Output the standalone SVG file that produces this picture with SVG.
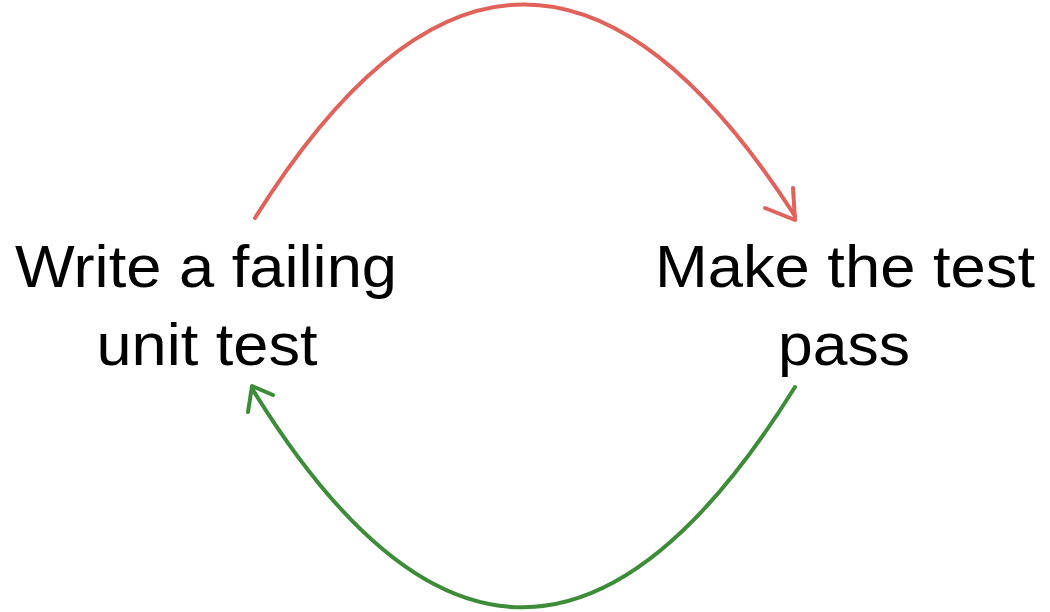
<svg xmlns="http://www.w3.org/2000/svg" width="1050" height="612" viewBox="0 0 1050 612">
<style>
.lbl{font-family:"Liberation Sans",Arial,sans-serif;font-size:59px;fill:#000;text-anchor:middle}
.red{fill:none;stroke:#e0625a;stroke-width:4;stroke-linecap:round;stroke-linejoin:round}
.green{fill:none;stroke:#3d8c38;stroke-width:4;stroke-linecap:round;stroke-linejoin:round}
</style>
<rect width="1050" height="612" fill="#fff"/>
<g id="node-write">
<text class="lbl" x="206" y="287" textLength="382" lengthAdjust="spacingAndGlyphs">Write a failing</text>
<text class="lbl" x="207" y="365" textLength="221" lengthAdjust="spacingAndGlyphs">unit test</text>
</g>
<g id="node-pass">
<text class="lbl" x="845" y="287" textLength="380" lengthAdjust="spacingAndGlyphs">Make the test</text>
<text class="lbl" x="844" y="365" textLength="132" lengthAdjust="spacingAndGlyphs">pass</text>
</g>
<g id="connectors">
<path class="red" d="M255,218 Q522,-208 795,216"/>
<path class="red" d="M765,208 L795,220 L793,188"/>
<path class="green" d="M795,387 Q522,826 253,390"/>
<path class="green" d="M248,412 L252,386 L273,395"/>
</g>
</svg>
